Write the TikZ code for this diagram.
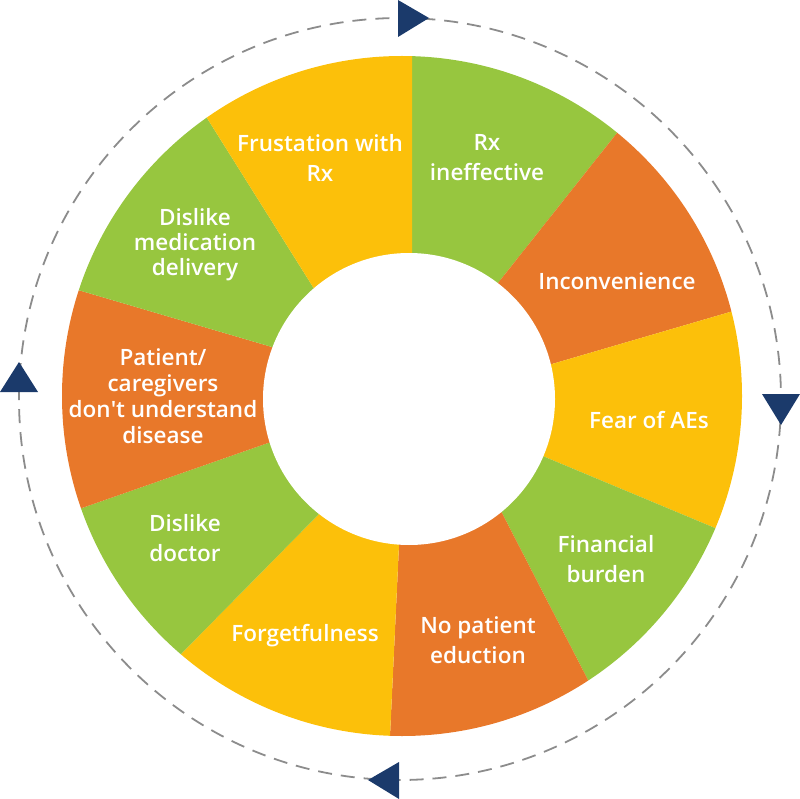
\documentclass[tikz,border=0pt]{standalone}
\usepackage{fontspec}
\setmainfont{Open Sans}[UprightFont={* Semibold}]
\usetikzlibrary{calc}
\definecolor{cgreen}{RGB}{151,198,63}
\definecolor{cyellow}{RGB}{252,192,10}
\definecolor{corange}{RGB}{232,120,42}
\definecolor{cnavy}{RGB}{27,58,107}
\definecolor{cdash}{RGB}{140,140,140}
\begin{document}
\begin{tikzpicture}[x=1pt,y=-1pt,
  lbl/.style={text=white,align=center,inner sep=0pt,font=\fontsize{22.5}{30}\selectfont},
  ring/.style={cdash,line width=1.8pt,dash pattern=on 14pt off 9pt},
  tri/.style={fill=cnavy}]
\useasboundingbox (0,0) rectangle (800,799);
\coordinate (O) at (402,396);
\coordinate (Ci) at (409,399);
\coordinate (A-in) at (412,253); \coordinate (A-out) at (412,56);
\coordinate (B-in) at (498,283); \coordinate (B-out) at (617,133);
\coordinate (C-in) at (552,364); \coordinate (C-out) at (730,312);
\coordinate (D-in) at (545,457); \coordinate (D-out) at (715,528);
\coordinate (E-in) at (502,513); \coordinate (E-out) at (588,680);
\coordinate (F-in) at (399,545); \coordinate (F-out) at (390,736);
\coordinate (G-in) at (318,515); \coordinate (G-out) at (182,653);
\coordinate (H-in) at (268,443); \coordinate (H-out) at (82,508);
\coordinate (I-in) at (272,347); \coordinate (I-out) at (78,290);
\coordinate (J-in) at (313,287); \coordinate (J-out) at (207,118);
\begin{scope}
  \clip (O) circle[radius=340];
  \foreach \p/\q/\c in {A/B/cgreen,B/C/corange,C/D/cyellow,D/E/cgreen,E/F/corange,F/G/cyellow,G/H/cgreen,H/I/corange,I/J/cgreen,J/A/cyellow}{
    \coordinate (m) at ($(\p-out)!0.5!(\q-out)$);
    \fill[\c] (\p-in) -- ($(\p-in)!1.6!(\p-out)$) -- ($(O)!1.7!(m)$) -- ($(\q-in)!1.6!(\q-out)$) -- (\q-in) -- (Ci) -- cycle;
  }
\end{scope}
\fill[white] (Ci) circle[radius=146];
\draw[ring] (400,399) circle[radius=381];
\fill[tri] (398,0) -- (398,37) -- (429,18) -- cycle;
\fill[tri] (762,394) -- (800,394) -- (781,425) -- cycle;
\fill[tri] (399,762) -- (399,799) -- (368,780) -- cycle;
\fill[tri] (0,392) -- (38,392) -- (19,362) -- cycle;
\node[lbl] (t1) at (320,158) {Frustation with\\Rx};
\node[lbl] (t2) at (487,158) {Rx\\ineffective};
\node[lbl] (t3) at (617,281) {Inconvenience};
\node[lbl] (t4) at (649,420) {Fear of AEs};
\node[lbl] (t5) at (606,559) {Financial\\burden};
\node[lbl] (t6) at (478,640) {No patient\\eduction};
\node[lbl] (t7) at (305,636) {Forgetfulness};
\node[lbl] (t8) at (185,538) {Dislike\\doctor};
\node[lbl,font=\fontsize{22.5}{26}\selectfont] (t9) at (163,396) {Patient/\\caregivers\\don\textquotesingle t understand\\disease};
\node[lbl,font=\fontsize{22.5}{25}\selectfont] (t10) at (195,245) {Dislike\\medication\\delivery};
\end{tikzpicture}
\end{document}
